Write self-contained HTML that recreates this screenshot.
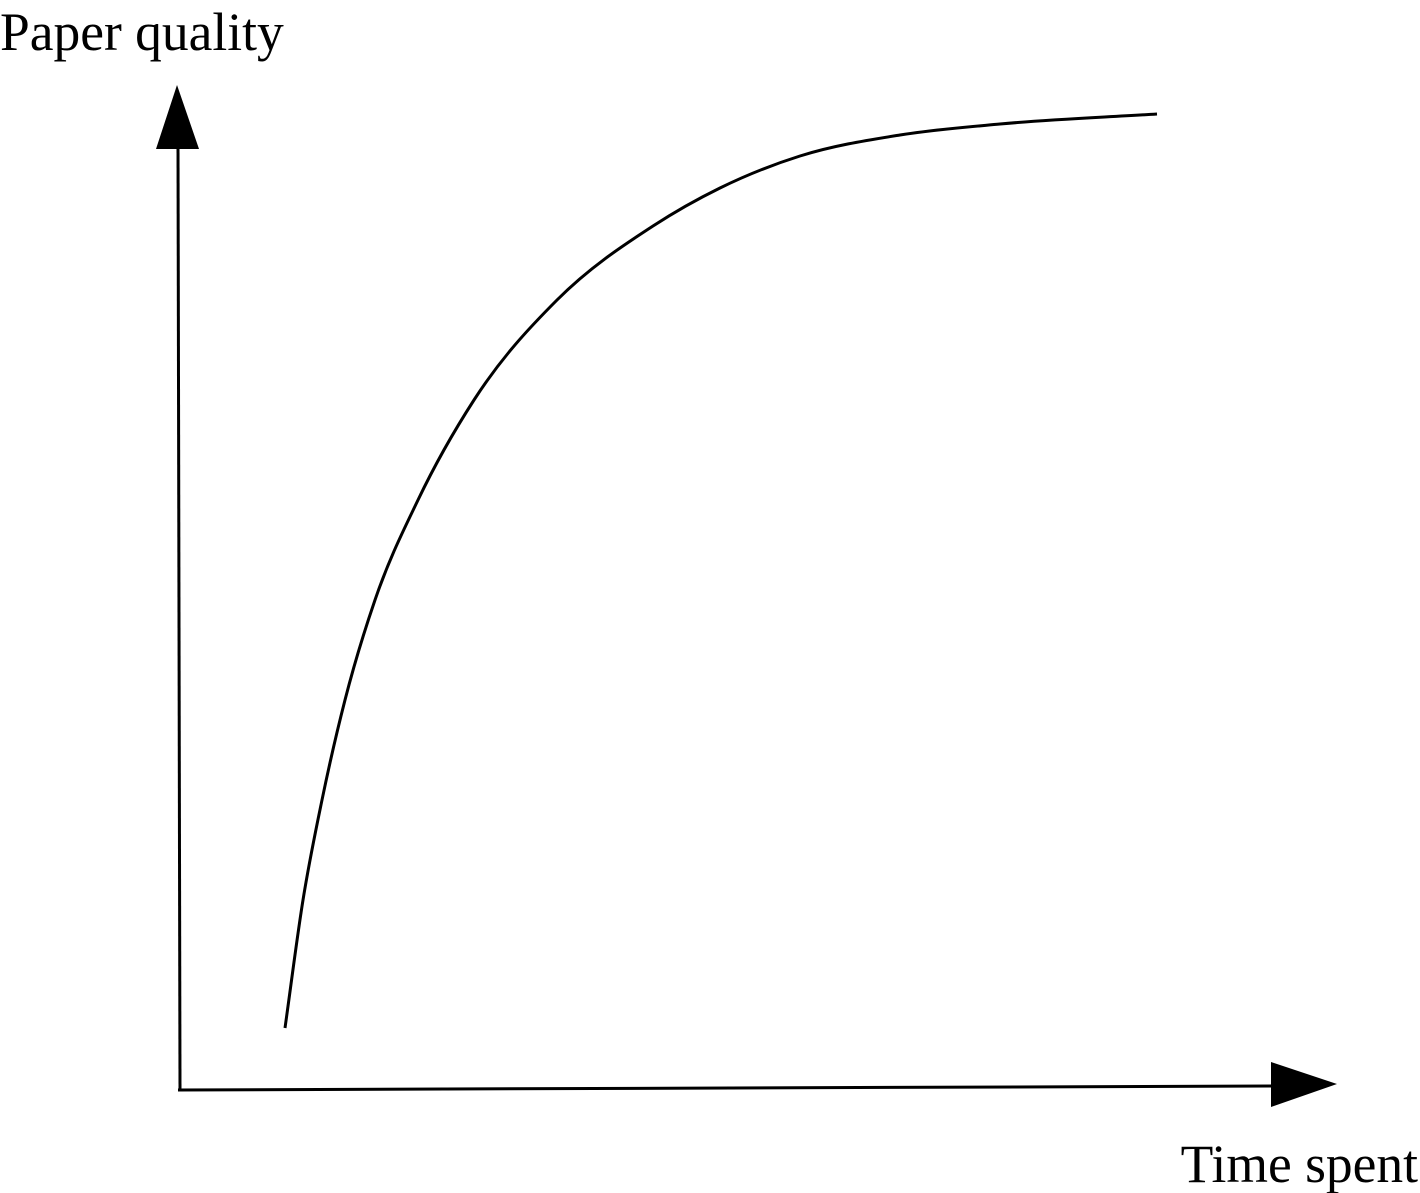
<!DOCTYPE html>
<html><head><meta charset="utf-8"><style>
html,body{margin:0;padding:0;background:#fff;}
svg{display:block;}
text{font-family:"Liberation Serif",serif;fill:#000;}
</style></head><body>
<svg id="chart" width="1420" height="1193" viewBox="0 0 1420 1193">
<line x1="180" y1="1090" x2="178" y2="145" stroke="#000" stroke-width="3"/>
<polygon points="177,85 156,149 199,149" fill="#000"/>
<line x1="178" y1="1090" x2="1275" y2="1086" stroke="#000" stroke-width="3"/>
<polygon points="1337,1084 1271,1062 1271,1107" fill="#000"/>
<text x="0" y="50" font-size="53.5">Paper quality</text>
<text x="1418" y="1182" font-size="53.5" text-anchor="end">Time spent</text>
<path id="curve" fill="none" stroke="#000" stroke-width="3"/>
</svg>
<script>
const timeValues = [10.7, 12.5, 14.4, 16.7, 19.7, 24.0, 29.6, 37.9, 47.5, 54.2, 62.2, 72.2, 82.2, 97.9];
const qualityValues = [6.2, 19, 29, 39, 49, 59, 69, 79, 86.4, 90.2, 93.4, 95.5, 96.6, 97.6];
function xScale(t){ return 178 + t * 10; }
function yScale(q){ return 1090 - q * 10; }
const px = timeValues.map(xScale), py = qualityValues.map(yScale);
const n = px.length;
const h = [], s = [];
for (let i = 0; i < n - 1; i++) { h.push(px[i+1]-px[i]); s.push((py[i+1]-py[i])/h[i]); }
const m = [];
for (let i = 0; i < n; i++) {
  if (i === 0) m.push(s[0]);
  else if (i === n-1) m.push(s[n-2]);
  else m.push((s[i-1]*h[i] + s[i]*h[i-1]) / (h[i-1]+h[i]));
}
let d = "M" + px[0] + "," + py[0];
for (let i = 0; i < n - 1; i++) {
  const c1x = px[i] + h[i]/3, c1y = py[i] + m[i]*h[i]/3;
  const c2x = px[i+1] - h[i]/3, c2y = py[i+1] - m[i+1]*h[i]/3;
  d += " C" + c1x + "," + c1y + " " + c2x + "," + c2y + " " + px[i+1] + "," + py[i+1];
}
document.getElementById('curve').setAttribute('d', d);
</script>
</body></html>
